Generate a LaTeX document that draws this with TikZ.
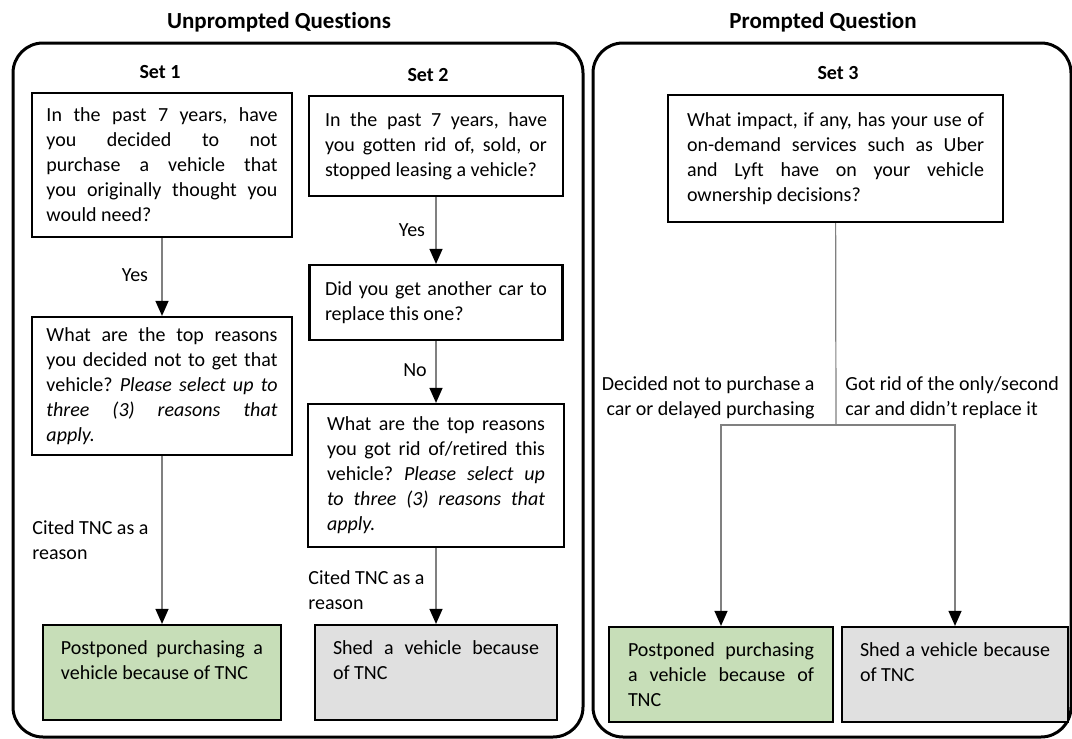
\documentclass[tikz,border=0pt]{standalone}
\usepackage{fontspec}
\setmainfont{Carlito}[Ligatures=CommonOff]
\usepackage{xcolor}
\usepackage{tikz}
\usetikzlibrary{arrows.meta}
\definecolor{postponed}{RGB}{199,222,184}
\definecolor{shed}{RGB}{224,224,224}
\frenchspacing

\begin{document}
\begin{tikzpicture}[x=0.5pt, y=-0.5pt,
    every node/.style={font=\fontsize{10}{12.5}\selectfont},
    question/.style={draw, line width=1.1pt, rectangle, align=justify, inner sep=0pt},
    outcome/.style={question, minimum height=47.5pt},
    title/.style={font=\fontsize{11.5}{14}\selectfont\bfseries},
    setname/.style={font=\fontsize{10}{12.5}\selectfont\bfseries},
    answer/.style={inner sep=0pt},
    panel/.style={draw, line width=1.5pt, rounded corners=15pt},
    link/.style={draw=gray, line width=0.6pt},
    conn/.style={link, -{Triangle[width=6.5pt, length=7.5pt, color=black]}}]
    \useasboundingbox (0, 0) rectangle (1072, 739);
    \draw[panel] (13, 43) rectangle (583, 737);
    \draw[panel] (593, 43) rectangle (1071, 737);

    \node[title] (unprompted) at (279, 22) {Unprompted Questions};
    \node[title] (prompted) at (823, 22) {Prompted Question};
    \node[setname] (set1) at (160, 72) {Set 1};
    \node[setname] (set2) at (428, 75) {Set 2};
    \node[setname] (set3) at (838, 73) {Set 3};

    \node[question, minimum width=130pt, minimum height=72pt, text width=115.5pt] (s1past) at (162, 165) {In the past 7 years, have\linebreak you decided to not\linebreak purchase a vehicle that\linebreak you originally thought you\linebreak would need?};
    \node[question, minimum width=130pt, minimum height=69pt, text width=115.5pt] (s1why) at (162, 386) {What are the top reasons\linebreak you decided not to get that\linebreak vehicle? \textit{Please select up to\linebreak three (3) reasons that\linebreak apply.}};
    \node[outcome, fill=postponed, minimum width=119pt, text width=101pt] (s1res) at (162, 672.5) {Postponed purchasing a\linebreak vehicle because of TNC\par\mbox{}};

    \node[question, minimum width=127pt, minimum height=50pt, text width=111pt] (s2past) at (436, 146) {In the past 7 years, have\linebreak you gotten rid of, sold, or\linebreak stopped leasing a vehicle?};
    \node[question, minimum width=126.5pt, minimum height=37.5pt, text width=111pt] (s2again) at (436, 302.5) {Did you get another car to\linebreak replace this one?};
    \node[question, minimum width=128pt, minimum height=71.5pt, text width=109pt] (s2why) at (436, 475.5) {What are the top reasons\linebreak you got rid of/retired this\linebreak vehicle? \textit{Please select up\linebreak to three (3) reasons that\linebreak apply.}};
    \node[outcome, fill=shed, minimum width=121pt, text width=103pt] (s2res) at (436, 672.5) {Shed a vehicle because\linebreak of TNC\par\mbox{}};

    \node[question, minimum width=167.5pt, minimum height=63.5pt, text width=148.5pt] (s3impact) at (835.5, 158.5) {What impact, if any, has your use of\linebreak on-demand services such as Uber\linebreak and Lyft have on your vehicle\linebreak ownership decisions?};
    \coordinate (s3split) at (836, 425);
    \node[outcome, fill=postponed, minimum width=112pt, text width=93pt] (s3res1) at (721, 674.5) {Postponed purchasing\linebreak a vehicle because of\linebreak TNC};
    \node[outcome, fill=shed, minimum width=113pt, text width=95pt] (s3res2) at (955, 674.5) {Shed a vehicle because\linebreak of TNC\par\mbox{}};

    \node[answer] (yes1) at (135, 275) {Yes};
    \node[answer] (yes2) at (412, 230) {Yes};
    \node[answer] (no2) at (415, 370) {No};
    \node[answer, anchor=west, align=left] (cited1) at (32, 540) {Cited TNC as a\\reason};
    \node[answer, anchor=west, align=left] (cited2) at (308, 590) {Cited TNC as a\\reason};
    \node[answer, anchor=east, align=right] (declined) at (815, 397.5) {Decided not to purchase a\\car or delayed purchasing};
    \node[answer, anchor=west, align=left] (gotrid) at (845, 397.5) {Got rid of the only/second\\car and didn’t replace it};

    \draw[conn] (s1past) -- (s1why);
    \draw[conn] (s1why) -- (s1res);
    \draw[conn] (s2past) -- (s2again);
    \draw[conn] (s2again) -- (s2why);
    \draw[conn] (s2why) -- (s2res);
    \draw[link] (s3impact) -- (s3split);
    \draw[conn] (s3split) -| (s3res1);
    \draw[conn] (s3split) -| (s3res2);
\end{tikzpicture}
\end{document}
